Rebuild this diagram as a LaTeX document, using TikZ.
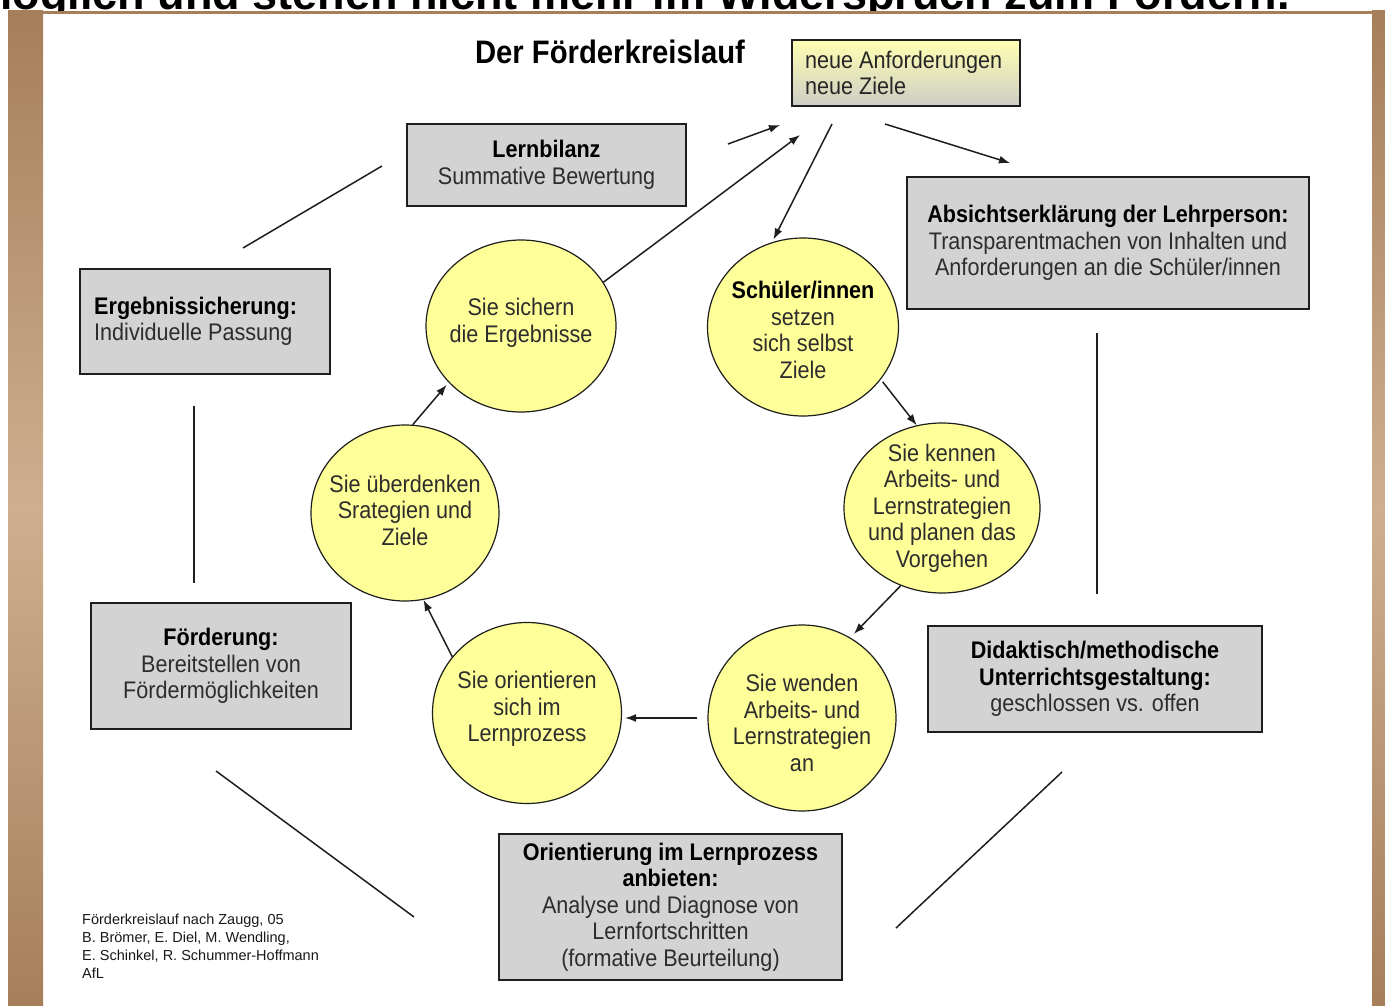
\documentclass[tikz,border=0pt]{standalone}
\usepackage{fontspec}
\setmainfont{Liberation Sans}[FakeStretch=0.9]
\newfontfamily\plainfont{Liberation Sans}
\usetikzlibrary{shapes.geometric,arrows.meta}
\definecolor{ellc}{RGB}{255,255,153}
\definecolor{boxgray}{RGB}{211,211,211}
\definecolor{wood}{RGB}{166,127,90}
\definecolor{woodlight}{RGB}{205,175,143}
\definecolor{txt}{RGB}{45,45,45}
\definecolor{ln}{RGB}{30,30,30}
\begin{document}
\begin{tikzpicture}[x=1pt,y=-1pt,
  gbox/.style={draw=ln,line width=1.4pt,fill=boxgray,inner sep=0pt},
  ellnode/.style={ellipse,draw=ln,line width=1.2pt,fill=ellc,inner sep=0pt},
  btext/.style={align=center,font=\fontsize{24}{26.5}\selectfont,text=txt,inner sep=0pt},
  arr/.style={draw=ln,line width=1.5pt,-{Latex[length=11pt,width=8pt]}},
  conn/.style={draw=ln,line width=1.5pt},
]
\useasboundingbox (0,0) rectangle (1385,1006);
\fill[white] (0,0) rectangle (1385,1006);
% clipped headline of the previous slide
\begin{scope}
\clip (0,0) rectangle (1385,12);
\node[anchor=base east,inner sep=0pt,font=\plainfont\bfseries\fontsize{45}{50}\selectfont] (head) at (1290,10) {möglich und stehen nicht mehr im Widerspruch zum Fördern.};
\end{scope}
% wooden frame
\shade[top color=wood,bottom color=wood,middle color=woodlight] (8,11) rectangle (43,1006);
\shade[top color=wood,bottom color=wood,middle color=woodlight] (1372,11) rectangle (1385,1006);
\fill[wood] (8,11) rectangle (1385,14);

% title
\node[inner sep=0pt,font=\bfseries\fontsize{32.5}{36}\selectfont] (title) at (610,52) {Der Förderkreislauf};

% yellow box
\node[draw=ln,line width=1.3pt,minimum width=228pt,minimum height=66pt,inner sep=0pt,
  top color={rgb,255:red,255;green,255;blue,178},middle color={rgb,255:red,246;green,246;blue,172},
  bottom color={rgb,255:red,205;green,205;blue,198}] (Y) at (906,73) {};
\node[btext,anchor=west,align=left,text=black!85] (Yt) at (805,73) {neue Anforderungen\\neue Ziele};

% gray boxes
\node[gbox,minimum width=279pt,minimum height=82pt] (L) at (546.5,165) {};
\node[btext] (Lt) at (L) {\textcolor{black}{\bfseries Lernbilanz}\\Summative Bewertung};

\node[gbox,minimum width=250pt,minimum height=105pt] (ES) at (205,321.5) {};
\node[btext,anchor=west,align=left] (ESt) at (94,321.5) {\textcolor{black}{\bfseries Ergebnissicherung:}\\Individuelle Passung};

\node[gbox,minimum width=260pt,minimum height=126pt] (FO) at (221,666) {};
\node[btext] (FOt) at (FO) {\textcolor{black}{\bfseries Förderung:}\\Bereitstellen von\\Fördermöglichkeiten};

\node[gbox,minimum width=343pt,minimum height=146pt] (OR) at (670.5,907) {};
\node[btext] (ORt) at (OR) {\textcolor{black}{\bfseries Orientierung im Lernprozess}\\\textcolor{black}{\bfseries anbieten:}\\Analyse und Diagnose von\\Lernfortschritten\\(formative Beurteilung)};

\node[gbox,minimum width=334pt,minimum height=106pt] (DI) at (1095,679) {};
\node[btext] (DIt) at (DI) {\textcolor{black}{\bfseries Didaktisch/methodische}\\\textcolor{black}{\bfseries Unterrichtsgestaltung:}\\geschlossen vs. offen};

\node[gbox,minimum width=402pt,minimum height=132pt] (AB) at (1108,243) {};
\node[btext] (ABt) at (AB) {\textcolor{black}{\bfseries Absichtserklärung der Lehrperson:}\\Transparentmachen von Inhalten und\\Anforderungen an die Schüler/innen};

% ellipses
\node[ellnode,minimum width=190pt,minimum height=172pt] (E1) at (521,326) {};
\node[btext] (E1t) at (521,323) {Sie sichern\\die Ergebnisse};
\node[ellnode,minimum width=191pt,minimum height=178pt] (E2) at (803,327) {};
\node[btext] (E2t) at (803,330) {\textcolor{black}{\bfseries Schüler/innen}\\setzen\\sich selbst\\Ziele};
\node[ellnode,minimum width=196pt,minimum height=170pt] (E3) at (942,508) {};
\node[btext] (E3t) at (942,508) {Sie kennen\\Arbeits- und\\Lernstrategien\\und planen das\\Vorgehen};
\node[ellnode,minimum width=188pt,minimum height=186pt] (E4) at (802,718) {};
\node[btext] (E4t) at (802,723) {Sie wenden\\Arbeits- und\\Lernstrategien\\an};
\node[ellnode,minimum width=189pt,minimum height=181pt] (E5) at (527,713) {};
\node[btext] (E5t) at (527,709) {Sie orientieren\\sich im\\Lernprozess};
\node[ellnode,minimum width=188pt,minimum height=176pt] (E6) at (405,513) {};
\node[btext] (E6t) at (405,510) {Sie überdenken\\Srategien und\\Ziele};

% free connector ends
\coordinate (a1s) at (728,144); \coordinate (a1e) at (780,125);
\coordinate (a2e) at (800,135);
\coordinate (a3s) at (832,124);
\coordinate (a4s) at (885,124); \coordinate (a4e) at (1010,163);
\coordinate (l1a) at (243,248); \coordinate (l1b) at (382,166);
\coordinate (l2a) at (194,406); \coordinate (l2b) at (194,583);
\coordinate (l3a) at (216,771); \coordinate (l3b) at (414,917);
\coordinate (l4a) at (896,928); \coordinate (l4b) at (1062,772);
\coordinate (l5a) at (1097,333); \coordinate (l5b) at (1097,594);

% arrows
\draw[arr] (E1.28) -- (a2e);
\draw[arr] (a1s) -- (a1e);
\draw[arr,shorten >=3pt] (a3s) -- (E2.110);
\draw[arr] (a4s) -- (a4e);
\draw[arr,shorten <=3pt] (E2.-34) -- (E3.107);
\draw[arr,shorten >=5pt] (E3.-118) -- (E4.59);
\draw[arr,shorten >=3pt] ([xshift=-10pt]E4.west) -- (E5.east |- E4.west);
\draw[arr] (E5.143) -- (E6.-78);
\draw[arr,shorten >=3pt] (E6.85) -- (E1.-142);

% plain lines
\draw[conn] (l1a) -- (l1b);
\draw[conn] (l2a) -- (l2b);
\draw[conn] (l3a) -- (l3b);
\draw[conn] (l4a) -- (l4b);
\draw[conn] (l5a) -- (l5b);

% footer
\node[anchor=north west,align=left,inner sep=0pt,text=black!90,font=\plainfont\fontsize{14.5}{18}\selectfont] (foot) at (82,914)
  {Förderkreislauf nach Zaugg, 05\\B. Brömer, E. Diel, M. Wendling,\\E. Schinkel, R. Schummer-Hoffmann\\AfL};
\end{tikzpicture}
\end{document}
